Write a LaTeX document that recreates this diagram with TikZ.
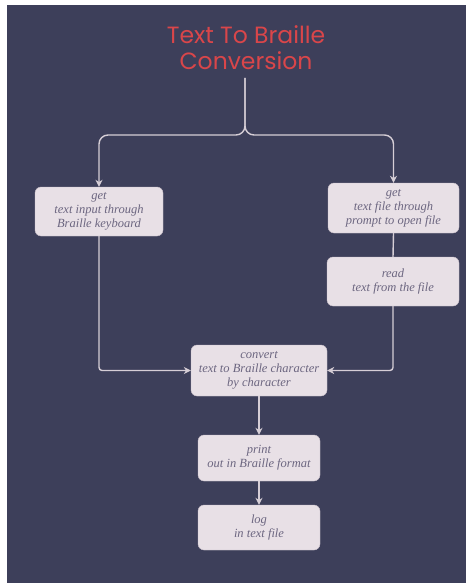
\documentclass[tikz,border=0pt]{standalone}
\usepackage{fontspec}
\setmainfont{Liberation Serif}
\newfontfamily\titlefont{Poppins}
\usepackage{xcolor}
\usetikzlibrary{arrows.meta}

\definecolor{slate}{RGB}{61,63,90}
\definecolor{boxfill}{RGB}{232,224,230}
\definecolor{boxline}{RGB}{200,190,200}
\definecolor{boxtext}{RGB}{108,102,128}
\definecolor{linkgray}{RGB}{214,206,214}
\definecolor{titlered}{RGB}{217,70,74}

\begin{document}
\begin{tikzpicture}[x=1pt,y=-1pt]
    % --- DEFINE STYLES ---
    % Style for the process steps
    \tikzstyle{stepbox} = [rectangle, rounded corners=6pt, draw=boxline, fill=boxfill,
        text=boxtext, font=\itshape\fontsize{12.5}{14}\selectfont, align=center, inner sep=0pt]
    % Style for the connectors
    \tikzstyle{link} = [draw=linkgray, line width=1.4pt]
    \tikzstyle{flow} = [link, -{Stealth[length=7pt,width=7pt]}]

    % Background
    \fill[white] (0,0) rectangle (469,583);
    \fill[slate] (7,5) rectangle (466,583);

    % Title
    \node[text=titlered, font=\titlefont\fontsize{23.5}{26}\selectfont, align=center,
        inner sep=0pt] (title) at (246,48) {Text To Braille\\Conversion};
    \coordinate (stem) at (245,78);
    \coordinate (hub) at (245,135);

    % --- DRAW STEPS ---
    \node[stepbox, minimum width=128pt, minimum height=49pt] (kbd) at (99,211.5)
        {get\\text input through\\Braille keyboard};
    \node[stepbox, minimum width=131pt, minimum height=50pt] (file) at (393.5,208)
        {get\\text file through\\prompt to open file};
    \node[stepbox, minimum width=132pt, minimum height=49pt] (read) at (393,281.5)
        {read\\text from the file};
    \node[stepbox, minimum width=136pt, minimum height=51pt] (conv) at (259,370.5)
        {convert\\text to Braille character\\by character};
    \node[stepbox, minimum width=122pt, minimum height=46pt] (print) at (259,458)
        {print\\out in Braille format};
    \node[stepbox, minimum width=122pt, minimum height=45pt] (log) at (259,527.5)
        {log\\in text file};

    % --- DRAW CONNECTORS ---
    \draw[flow, rounded corners=9pt] (stem) -- (hub) -| (kbd.north);
    \draw[flow, rounded corners=9pt] (stem) -- (hub) -| (file.north);
    \draw[link] (file.south) -- (read.north);
    \draw[flow, rounded corners=3pt] (kbd.south) |- (conv.west);
    \draw[flow, rounded corners=3pt] (read.south) |- (conv.east);
    \draw[flow] (conv.south) -- (print.north);
    \draw[flow] (print.south) -- (log.north);
\end{tikzpicture}
\end{document}
